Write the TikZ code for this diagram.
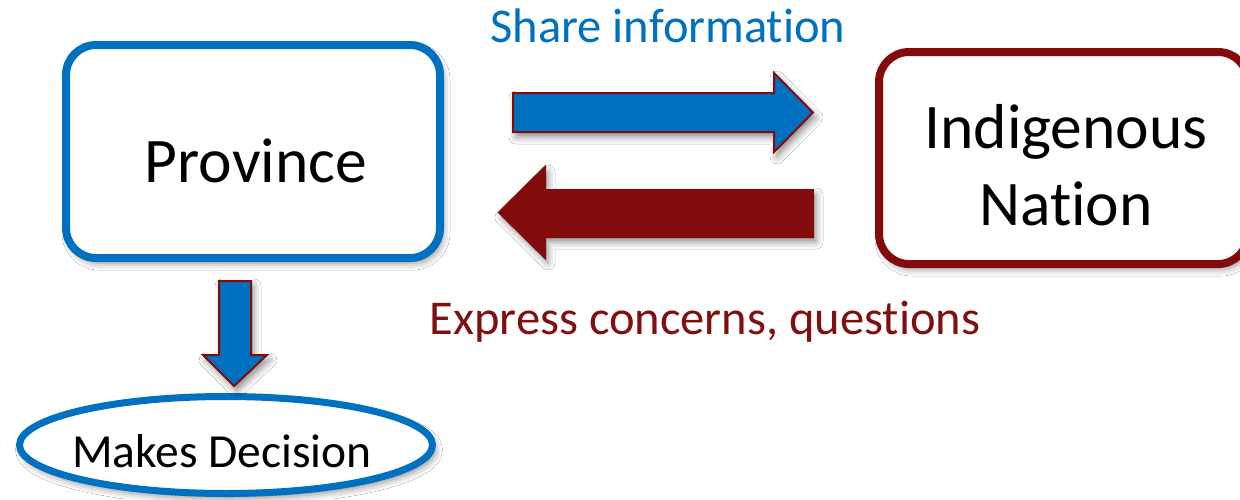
\documentclass[tikz,border=0pt]{standalone}
\usepackage{fontspec}
\setmainfont[Ligatures={NoCommon,NoRare,NoContextual},RawFeature={-liga;-clig;-calt;-dlig}]{Carlito}
\usetikzlibrary{shapes.geometric,shadows.blur}
\definecolor{pblue}{RGB}{0,112,192}
\definecolor{dred}{RGB}{132,11,11}
\definecolor{tred}{RGB}{128,16,16}
\newcommand{\tnl}{t\kern0pt }
\tikzset{
  softshadow/.style={blur shadow={shadow xshift=3pt,shadow yshift=-5pt,shadow blur radius=7pt,shadow opacity=45}},
  bigbox/.style={draw,line width=8pt,rounded corners=30pt,fill=white,align=center,softshadow},
  bigtext/.style={anchor=base,font=\fontsize{63.5}{77}\selectfont},
  blockarrow/.style={line width=2pt,draw=dred,line join=miter,softshadow},
  label/.style={anchor=base,font=\fontsize{48.5}{58}\selectfont}
}
\begin{document}
\begin{tikzpicture}[x=1pt,y=-1pt]
\fill[white] (0,0) rectangle (1240,499);
\useasboundingbox (0,0) rectangle (1240,499);
% boxes
\node[bigbox,draw=pblue,minimum width=374pt,minimum height=213pt] (prov) at (253,151.5) {};
\node[bigtext] (provtxt) at (256,182) {Province};
\node[bigbox,draw=dred,minimum width=369pt,minimum height=212pt] (nation) at (1063.5,158) {};
\node[bigtext] (nat1) at (1066,148) {Indigenous};
\node[bigtext] (nat2) at (1066,225) {Na\tnl ion};
% ellipse
\node[ellipse,draw=pblue,line width=7pt,fill=white,softshadow,minimum width=413pt,minimum height=97pt] (dec) at (226,445) {};
\node[anchor=base,font=\fontsize{47.5}{57}\selectfont] (dectxt) at (222,467) {Makes Decision};
% labels
\node[label,text=pblue] (share) at (668,42) {Share informa\tnl ion};
\node[label,text=tred] (express) at (705,334) {Express concerns, ques\tnl ions};
% right arrow (blue)
\draw[blockarrow,fill=pblue] (513,93) -- (774,93) -- (774,73) -- (813,112.5) -- (774,152) -- (774,132) -- (513,132) -- cycle;
% left arrow (dark red)
\draw[blockarrow,fill=dred] (813,190) -- (545,190) -- (545,167) -- (499,212.5) -- (545,258) -- (545,237) -- (813,237) -- cycle;
% down arrow
\draw[blockarrow,fill=pblue] (219,281) -- (251,281) -- (251,355) -- (267,355) -- (234,386) -- (203,355) -- (219,355) -- cycle;
\end{tikzpicture}
\end{document}
